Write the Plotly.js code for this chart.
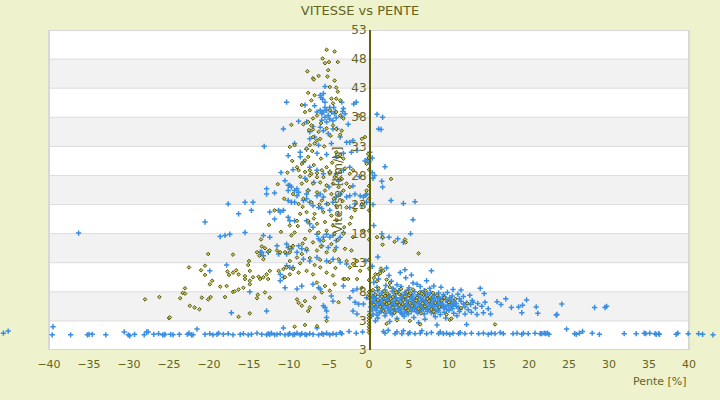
<!DOCTYPE html>
<html>
<head>
<meta charset="utf-8">
<script src="https://cdn.plot.ly/plotly-3.0.1.min.js"></script>
<style>
  html, body { margin: 0; padding: 0; background: #eef2cd; }
  #chart { width: 720px; height: 400px; }
</style>
</head>
<body>
<div id="chart"></div>
<script>
// points are [pente %, vitesse km/h]

// blue series, bottom row (speed ~1)
const blueBottom = [
  [-45.7,0.9],[-45.1,1.25],[-39.5,2.0],[-39.6,0.6],[-37.3,0.6],[-35.2,0.6],[-35.0,0.7],[-34.6,0.7],
  [-32.9,0.6],[-30.6,1.1],[-30.1,0.6],[-29.9,0.45],[-29.3,0.7],[-28.1,0.6],[-27.8,1.1],[-27.6,1.1],
  [-26.9,0.7],[-26.3,0.8],[-25.8,0.6],[-25.6,0.6],[-25.5,0.7],[-24.8,0.7],[-24.5,0.6],[-23.7,0.7],
  [-22.7,0.7],[-22.5,0.9],[-22.2,0.6],[-22.0,0.6],[-21.5,1.6],[-20.5,0.7],[-19.9,0.8],[-19.5,0.6],
  [-19.0,0.7],[-18.8,0.9],[-18.2,0.7],[-17.6,0.8],[-17.0,0.6],[-16.1,0.7],[-15.7,0.8],[-15.1,0.6],
  [-14.7,0.7],[-14.0,0.9],[-13.4,0.7],[-12.8,0.6],[-12.6,0.8],[-12.4,0.7],[-12.2,0.9],[-11.8,0.6],
  [-11.5,0.7],[-11.1,0.8],[-10.7,1.8],[-10.5,0.6],[-10.1,0.7],[-9.9,0.8],[-9.5,0.6],[-9.3,0.7],
  [-9.0,0.9],[-8.6,0.6],[-8.4,0.8],[-8.0,0.7],[-7.8,0.6],[-7.4,0.8],[-7.0,0.7],[-6.5,1.8],
  [-6.3,0.6],[-5.9,0.8],[-5.7,0.7],[-5.3,0.9],[-4.9,0.6],[-4.5,0.8],[-4.1,0.7],[-3.6,1.0],
  [-3.4,0.8],[-2.5,1.2],[-1.6,0.9],[-0.8,1.1],
  [1.8,1.2],[2.0,0.9],[2.4,1.4],[3.25,0.8],[3.5,1.1],[4.1,0.8],[4.3,1.3],[4.9,0.8],[5.1,1.0],
  [5.75,0.8],[6.4,0.9],[6.6,1.3],[7.2,0.8],[7.8,1.0],[8.5,2.3],[8.7,0.8],[8.9,1.1],[9.3,0.8],
  [9.7,0.9],[10.1,0.7],[10.5,0.9],[11.2,0.8],[11.4,1.0],[12.0,0.8],[12.2,2.4],[12.8,0.9],
  [13.7,0.8],[14.3,0.9],[14.9,0.7],[15.3,0.9],[15.75,0.8],[16.4,1.0],[16.8,0.8],[18.0,0.8],
  [18.5,0.9],[19.1,0.7],[19.3,0.9],[19.9,0.8],[20.75,0.9],[21.4,0.8],[21.6,0.8],[21.9,0.9],
  [22.1,0.8],[22.3,0.9],[22.5,0.7],[24.7,1.6],[25.7,0.8],[25.9,0.7],[26.3,0.9],[26.7,1.2],
  [27.9,0.9],[28.8,0.7],[31.9,0.8],[33.4,0.8],[34.4,0.9],[34.6,0.8],[35.1,0.9],[35.75,0.8],
  [35.9,0.7],[36.2,0.8],[36.3,0.7],[38.4,0.7],[38.6,0.9],[39.9,0.8],[41.2,0.8],[41.7,0.7],[43.0,0.6]
];

// blue series, dense cluster on the uphill side
const blueUphill = [
  [0.6,9.6],[1.2,10.2],[2.1,9.1],[2.8,9.8],[3.5,9.2],[4.6,10.4],[5.5,9.5],[6.4,8.9],[7.2,9.9],
  [8.1,9.0],[1.0,8.8],[3.0,8.6],[4.0,8.9],[5.0,8.7],[6.0,9.3],[7.6,8.6],[9.0,8.8],[10.5,8.4],
  [11.5,8.3],[2.5,10.8],[3.9,11.3],[4.5,11.8],[1.5,11.6],[0.4,12.4],[2.2,12.1],[7.8,11.6],[5.3,10.9],
  [0.2,8.0],[0.7,7.6],[1.1,8.2],[1.6,7.8],[2.0,8.3],[2.4,7.5],[2.9,8.1],[3.3,7.7],[3.7,8.2],
  [4.1,7.4],[4.5,7.9],[4.9,8.3],[5.3,7.6],[5.7,8.0],[6.1,7.5],[6.5,7.9],[6.9,8.2],[7.3,7.6],
  [7.7,7.9],[8.2,7.4],[8.7,7.8],[9.3,7.5],[9.8,7.9],[10.4,7.3],[11.1,7.6],[11.8,7.2],[12.6,7.4],
  [13.9,8.6],[14.4,7.7],
  [0.1,6.8],[0.5,6.4],[0.9,6.9],[1.3,6.2],[1.7,6.7],[2.1,6.3],[2.5,6.9],[2.9,6.4],[3.3,6.8],
  [3.7,6.2],[4.1,6.6],[4.5,7.0],[4.9,6.3],[5.3,6.7],[5.7,6.1],[6.1,6.5],[6.5,6.9],[6.9,6.2],
  [7.3,6.6],[7.7,6.3],[8.1,6.8],[8.5,6.1],[8.9,6.5],[9.3,6.9],[9.8,6.2],[10.3,6.6],[10.9,6.0],
  [11.5,6.4],[12.2,6.1],[12.9,6.5],[13.6,6.0],[14.5,6.2],[16.0,6.3],[17.1,6.8],[19.7,6.6],
  [0.3,6.1],[0.8,6.6],[1.5,6.0],[1.9,7.1],[2.7,6.0],[3.1,7.2],[3.5,6.5],[4.3,6.0],[4.7,6.5],
  [5.1,7.1],[5.5,6.4],[5.9,6.9],[6.3,6.0],[6.7,6.7],[7.1,7.1],[7.5,6.0],[7.9,7.0],[8.3,6.4],
  [8.7,7.1],[9.1,6.0],[9.6,6.7],[10.1,7.0],[10.6,6.3],[11.3,6.8],
  [0.2,5.4],[0.6,5.9],[1.0,5.2],[1.4,5.7],[1.8,5.1],[2.2,5.6],[2.6,5.0],[3.0,5.5],[3.4,5.9],
  [3.8,5.2],[4.2,5.7],[4.6,5.1],[5.0,5.6],[5.4,5.0],[5.8,5.5],[6.2,5.9],[6.6,5.2],[7.0,5.7],
  [7.4,5.1],[7.8,5.6],[8.2,5.0],[8.6,5.5],[9.0,5.9],[9.4,5.2],[9.9,5.7],[10.4,5.1],[10.9,5.5],
  [11.4,5.0],[12.0,5.4],[12.7,5.8],[13.3,5.2],[14.1,5.5],[14.9,5.1],[16.5,5.8],[17.8,5.3],
  [18.7,5.4],[19.2,5.7],[20.9,5.4],
  [0.4,5.0],[0.9,5.6],[1.2,6.0],[1.6,5.3],[2.0,5.9],[2.4,5.3],[2.8,5.8],[3.2,5.1],[3.6,5.6],
  [4.0,5.0],[4.4,5.4],[4.8,5.9],[5.2,5.3],[5.6,5.8],[6.0,5.1],[6.4,5.6],[6.8,5.0],[7.2,5.4],
  [7.6,5.9],[8.0,5.3],[8.4,5.8],[8.8,5.2],[9.2,5.6],[9.7,5.0],[10.2,5.4],[10.7,5.9],[11.2,5.3],
  [0.1,4.6],[0.5,4.2],[0.9,4.8],[1.3,4.4],[1.7,4.9],[2.1,4.3],[2.5,4.7],[2.9,4.1],[3.3,4.6],
  [3.7,4.9],[4.1,4.3],[4.5,4.7],[4.9,4.2],[5.3,4.6],[5.7,4.9],[6.1,4.4],[6.5,4.8],[6.9,4.2],
  [7.3,4.6],[7.7,4.9],[8.1,4.3],[8.5,4.7],[8.9,4.1],[9.4,4.5],[10.0,4.8],[10.6,4.3],[11.3,4.6],
  [12.0,4.2],[12.8,4.5],[13.5,4.1],[14.3,4.4],[15.2,4.2],[19.1,4.4],[21.1,4.3],[23.5,4.1],[23.4,4.0],
  [0.3,3.8],[1.1,3.5],[2.0,3.9],[3.5,3.4],[4.4,3.8],[5.6,3.6],[7.0,3.3],[8.3,3.7],[9.6,3.5],
  [11.0,3.9],[0.8,3.0],[2.6,2.9],[6.2,2.7],
  [0.4,7.2],[1.4,6.4],[2.3,7.0],[3.2,6.0],[3.9,6.9],[4.7,5.6],[5.5,6.9],[6.4,5.4],[7.1,6.4],
  [8.0,5.8],[8.8,6.8],[9.5,5.5],[10.3,6.0],[1.0,4.0],[2.7,4.4],[4.2,4.1],[6.0,4.6],[7.8,4.4],
  [0.6,7.0],[1.0,6.3],[1.3,7.4],[1.8,5.8],[2.2,6.6],[2.6,7.3],[3.0,6.1],[3.4,7.0],[3.8,5.9],
  [4.2,6.9],[4.6,7.6],[5.0,6.0],[5.4,7.3],[5.8,6.7],[6.2,7.2],[6.6,6.4],[7.0,7.6],[7.4,6.9],
  [7.8,6.6],[8.2,5.9],[8.6,7.0],[9.0,6.3],[9.4,7.2],[9.9,6.4],[0.7,5.3],[1.5,4.6],[2.3,5.2],
  [3.1,4.8],[3.9,4.5],[4.7,4.4],[5.5,5.3],[6.3,4.7],[7.1,5.0],[7.9,5.4],[8.7,4.8],[9.3,5.4],
  [10.5,5.6],[11.8,5.9],[12.4,4.9],[13.0,6.2],
  [24.1,5.9],[28.2,5.3],[29.5,5.3],[29.7,5.5]
];

// blue series, scattered points right of the axis
const blueUpScatter = [
  [1.0,38.5],[1.7,38.0],[1.2,36.0],[1.5,35.9],[0.1,32.0],[0.4,31.0],[-0.5,30.5],[-0.2,30.8],
  [2.0,29.5],[0.4,28.5],[0.7,28.0],[1.6,27.0],[1.7,26.0],[0.5,27.5],[2.75,23.7],[4.3,23.2],
  [5.75,23.5],[0.5,23.0],[-0.4,24.6],[5.5,20.4],[0.6,19.4],[5.2,18.0],[1.6,18.0],[1.7,17.3],
  [2.5,17.4],[3.6,17.1],[4.3,16.5],[1.1,14.0],[-0.4,13.3]
];

// blue series, downhill cloud
const blueDownhill = [
  [-36.3,18.1],[-20.5,20.0],[-19.9,11.6],[-17.8,12.6],[-18.6,17.5],[-18.0,17.7],[-17.4,17.9],
  [-15.5,18.2],[-14.7,22.0],[-16.3,21.4],[-17.6,23.1],[-15.5,23.4],[-14.5,23.4],[-13.2,17.7],
  [-12.4,17.4],[-12.6,14.8],[-13.4,14.8],[-13.6,14.8],[-13.2,14.2],[-11.5,15.9],[-11.3,14.5],
  [-10.3,16.2],[-10.1,15.6],[-11.1,11.0],[-10.7,10.5],[-12.8,4.7],[-17.2,4.4],[-14.9,8.0],
  [-12.8,25.7],[-12.8,24.8],[-11.8,25.0],[-11.3,22.0],[-11.1,21.7],[-10.7,22.0],[-12.4,21.7],
  [-11.8,20.5],[-10.1,20.8],[-9.9,20.2],[-9.3,20.2],[-10.5,27.1],[-10.1,26.3],[-9.9,26.3],
  [-9.7,26.0],[-10.1,25.4],[-9.3,25.4],[-9.0,25.7],[-8.8,25.1],[-9.0,24.5],[-10.1,23.7],
  [-9.7,23.4],[-9.3,23.4],[-8.2,23.7],[-7.8,24.0],[-7.4,23.4],[-7.8,24.8],[-7.6,25.4],
  [-6.5,24.5],[-6.1,24.8],[-5.7,24.3],[-7.0,22.8],[-6.3,22.5],[-5.9,22.3],[-5.3,23.1],
  [-4.9,22.0],[-4.5,23.4],[-4.1,24.3],[-3.6,24.8],[-2.8,24.3],[-2.4,24.5],[-1.75,24.8],
  [-1.1,24.5],[-0.7,24.3],[-0.3,24.8],[-2.4,22.5],[-1.75,23.1],[-0.9,22.8],[-0.3,23.4],
  [-7.8,20.2],[-7.4,19.7],[-7.0,19.1],[-6.5,17.9],[-6.3,17.1],[-6.1,16.8],[-5.7,17.4],
  [-5.3,17.9],[-4.9,17.4],[-4.5,17.7],[-4.1,16.8],[-3.6,17.4],[-3.2,18.2],[-5.9,15.9],
  [-5.1,15.6],[-4.1,15.6],[-8.8,15.9],[-8.4,15.4],[-7.8,15.1],[-10.3,14.5],[-9.7,15.4],
  [-9.0,14.8],[-8.2,13.6],[-7.4,13.3],[-6.5,13.9],[-5.3,13.3],[-4.5,13.6],[-3.6,13.1],
  [-2.8,12.8],[-10.3,12.5],[-9.9,12.2],[-9.5,12.2],[-11.1,9.9],[-10.5,8.7],[-9.0,8.5],
  [-8.4,9.0],[-7.0,9.3],[-6.3,8.7],[-6.1,8.5],[-4.7,7.3],[-4.5,6.4],[-5.7,5.6],[-5.5,5.3],
  [-3.2,9.0],[-2.4,7.0],[-2.0,8.2],[-1.5,8.5],[-1.75,6.2],[-1.3,5.9],[-0.7,5.9],[-0.3,7.0],
  [-2.0,4.7],[-1.5,4.2],[-5.3,3.6],[-5.3,4.7],
  [-10.3,40.6],[-13.1,33.0],[-10.1,31.4],[-8.8,37.3],[-9.3,33.5],[-8.6,32.0],[-7.8,37.2],
  [-6.5,38.9],[-6.1,41.8],[-5.7,42.1],[-5.5,40.6],[-5.5,43.3],[-6.0,41.4],[-5.8,41.1],
  [-6.1,39.2],[-5.9,38.6],[-5.7,38.9],[-5.5,38.0],[-5.3,39.2],[-5.1,38.3],[-4.9,37.7],
  [-4.7,38.9],[-4.5,37.4],[-4.3,38.6],[-4.1,37.9],[-5.3,37.2],[-5.9,37.5],[-5.5,39.7],
  [-4.9,39.7],[-4.4,39.7],[-4.2,39.0],[-3.3,39.0],[-3.5,38.2],[-1.9,40.3],[-3.2,39.5],
  [-3.0,38.6],[-3.4,40.6],[-1.6,40.6],[-3.6,34.6],[-2.8,33.7],[-2.4,33.7],[-2.0,34.0],
  [-1.5,32.3],[-4.7,33.5],[-6.3,33.2],[-7.4,35.5],[-7.4,34.3],[-6.8,34.6],[-6.1,36.3],
  [-5.7,35.7],[-5.1,35.2],[-4.5,36.0],[-7.8,32.5],[-6.5,31.8],[-5.3,31.6],[-4.1,31.2],
  [-3.2,31.8],[-2.2,32.0],[-8.6,31.2],[-8.2,30.3],[-7.4,29.4],[-6.5,28.9],[-5.7,28.3],
  [-4.9,28.6],[-4.1,28.3],[-3.2,28.9],[-2.4,29.4],[0.0,30.3],[-9.5,29.0],[-11.0,28.5],
  [-8.0,27.5],[-6.9,26.8],[-5.0,26.0],[-3.8,27.0],[-2.0,26.2],[-1.2,27.8],[-10.7,36.0],
  [-8.0,40.1],[-7.0,36.4],[-6.8,40.0],[-4.0,36.0],[-2.6,36.8]
];

// olive series, downhill cloud
const oliveDownhill = [
  [-5.3,49.6],[-4.3,49.3],[-5.8,48.1],[-5.5,47.3],[-5.0,47.5],[-3.9,47.5],[-5.1,46.1],[-7.7,45.9],
  [-7.0,44.7],[-6.9,44.5],[-6.3,45.1],[-5.2,45.0],[-4.3,44.3],[-4.9,43.2],[-4.1,43.1],[-3.9,42.4],
  [-7.6,42.2],[-6.8,41.8],[-7.2,40.9],[-4.7,41.2],[-4.1,41.2],[-4.5,40.4],[-3.6,40.9],[-8.4,40.1],
  [-8.0,38.9],[-7.4,39.2],[-6.5,38.3],[-7.0,37.8],[-4.9,39.2],[-4.1,38.9],[-3.6,38.3],[-3.2,37.8],
  [-9.7,36.7],[-8.2,36.8],[-7.6,37.2],[-7.2,36.6],[-7.5,35.8],[-7.0,35.9],[-6.3,35.5],[-5.3,36.1],
  [-4.5,36.6],[-4.1,36.0],[-3.4,35.7],[-3.6,35.0],[-7.0,34.6],[-6.5,34.0],[-6.1,34.3],[-6.8,33.5],
  [-9.9,32.9],[-9.3,33.2],[-7.8,32.6],[-7.4,33.2],[-4.1,32.0],[-3.9,31.2],[-3.6,31.5],[-3.2,30.9],
  [-9.0,29.4],[-8.8,28.9],[-8.4,30.0],[-8.0,30.6],[-7.6,31.2],[-7.4,28.9],[-7.2,28.3],[-6.5,27.7],
  [-5.9,28.9],[-5.3,29.4],[-4.9,28.3],[-4.3,27.7],[-3.6,28.6],[-3.0,29.2],[-2.4,28.3],[-2.0,28.9],
  [-1.3,38.3],[-0.9,34.3],[-0.5,34.6],[-0.1,31.7],[-0.3,30.0],
  [-8.0,28.6],[-7.4,28.0],[-6.5,28.4],[-5.7,27.7],[-4.9,28.6],[-4.1,28.0],[-7.8,27.1],[-7.0,26.6],
  [-6.1,26.8],[-5.3,26.3],[-4.5,26.6],[-3.8,26.0],[-7.6,25.4],[-6.5,25.1],[-5.5,25.4],[-4.7,24.8],
  [-8.2,24.0],[-7.2,23.4],[-5.9,23.7],[-5.1,23.1],[-4.1,22.8],[-7.8,21.7],[-6.8,21.4],[-5.7,21.7],
  [-4.7,21.1],[-3.8,21.4],[-7.6,20.2],[-6.5,19.7],[-5.5,20.0],[-4.5,19.4],[-7.4,18.5],[-6.3,18.2],
  [-5.3,18.5],[-4.3,18.0],[-8.0,17.1],[-7.0,16.5],[-5.7,16.8],[-4.7,16.2],[-7.8,15.4],[-6.5,15.1],
  [-5.3,14.8],[-4.3,15.1],[-7.4,13.8],[-6.1,13.5],[-4.9,13.1],[-3.8,13.6],
  [-8.6,27.8],[-6.9,29.8],[-6.0,30.9],[-4.6,30.2],[-8.3,22.6],[-6.2,23.0],[-4.4,24.0],[-3.3,23.6],
  [-8.9,19.3],[-6.9,20.6],[-4.0,20.3],[-3.1,19.1],[-8.3,16.3],[-6.0,15.8],[-3.9,16.9],[-8.6,12.9],
  [-6.8,12.6],[-4.2,12.1],[-7.1,32.2],[-5.6,33.0],[-4.8,34.8],[-6.0,37.0],
  [-9.9,19.4],[-9.3,18.2],[-9.7,17.7],[-9.0,20.2],[-8.6,21.4],[-8.8,23.1],[-9.5,24.8],[-8.4,26.6],
  [-3.2,25.4],[-2.8,26.6],[-2.4,26.0],[-3.4,27.4],[-2.2,20.8],[-2.4,19.7],[-2.0,17.4],[-2.2,15.1],
  [-1.5,13.3],[-2.0,12.8],[-2.4,12.2],[-1.1,11.6],[-1.5,10.2],[-0.9,8.7],[-3.2,10.2],[-3.0,10.2],
  [-2.6,10.2],[-2.8,22.5],[-1.75,22.0],[-3.2,18.0],[-3.0,15.4],[-0.7,18.5],[-0.9,23.1],[-0.3,25.4],
  [-2.8,13.3],
  [-7.8,11.6],[-7.0,11.0],[-6.1,12.2],[-5.3,11.3],[-4.5,10.8],[-6.5,9.6],[-5.5,9.0],[-4.3,9.3],
  [-5.9,7.9],[-4.9,8.2],[-7.6,4.7],[-7.4,5.3],[-9.3,2.0],[-8.0,2.3],[-6.8,7.0],[-3.8,6.2],
  [-5.3,3.0],[-6.5,2.1],
  [-28.0,6.7],[-26.2,7.1],[-25.0,3.5],[-23.3,7.8],[-24.9,3.6],[-23.6,6.9],[-23.0,8.6],[-23.0,7.7],
  [-22.5,12.2],[-22.4,5.6],[-21.8,5.3],[-21.2,5.0],[-21.0,11.7],[-20.5,12.5],[-20.5,10.9],
  [-20.9,7.0],[-20.1,6.7],[-19.8,7.1],[-20.1,14.5],[-19.9,9.3],[-19.6,9.9],[-18.0,7.1],[-18.6,8.9],
  [-17.8,9.0],[-17.7,11.5],[-17.5,10.9],[-17.0,11.3],[-16.6,11.7],[-16.3,11.0],[-17.0,14.4],
  [-17.0,8.0],[-16.8,8.1],[-16.3,8.4],[-16.3,3.7],[-15.7,8.7],[-15.5,10.7],[-15.0,13.3],[-15.1,12.6],
  [-14.9,11.6],[-15.5,10.2],[-14.9,9.3],[-14.9,9.9],[-14.5,10.5],[-13.8,10.6],[-13.6,10.2],
  [-13.2,10.5],[-12.8,11.0],[-12.4,11.6],[-12.6,10.2],[-14.0,14.8],[-13.7,14.2],[-13.2,13.6],
  [-12.6,14.9],[-12.4,15.1],[-13.0,15.5],[-13.4,15.8],[-13.9,7.5],[-14.0,6.9],[-13.0,7.9],
  [-12.4,7.0],[-14.9,4.3],[-11.5,15.1],[-11.1,14.8],[-10.5,14.8],[-9.9,14.8],[-9.9,15.6],[-9.5,15.9],
  [-11.3,11.6],[-10.7,11.9],[-10.5,10.5],[-10.3,12.2],[-9.9,11.0],[-9.5,11.9],[-8.8,11.3],
  [-9.9,13.3],[-9.0,13.9],[-8.4,14.5],[-9.0,6.7],[-8.8,6.1],[-8.4,5.6],[-8.0,6.4],
  [-12.5,19.5],[-11.8,22.0],[-11.0,18.3],[-13.5,17.0],[-10.6,24.0],[-11.4,26.5],[-10.2,28.5],[-9.6,30.5]
];

// olive series, uphill side and on the axis
const oliveUphill = [
  [2.75,27.4],[1.7,17.4],[1.0,17.4],[3.2,16.6],[4.5,17.0],[4.6,16.5],[6.2,14.6],[1.7,16.1],
  [1.5,12.0],[1.8,11.6],[0.8,11.0],[1.2,11.0],[1.4,11.2],[0.6,10.4],[2.2,10.1],[2.6,9.5],[1.0,9.8],
  [0.5,8.3],[1.2,8.6],[1.9,8.1],[2.6,8.8],[3.3,8.2],[4.0,8.5],[4.8,8.0],[5.5,8.4],[6.3,7.9],
  [7.1,8.2],[0.8,7.5],[1.6,7.2],[2.3,7.7],[3.0,7.1],[3.8,7.6],[4.5,7.2],[5.2,7.7],[6.0,7.0],
  [6.8,7.5],[7.6,7.1],[8.5,7.4],[9.4,7.0],[1.1,6.6],[1.9,6.3],[2.7,6.8],[3.5,6.2],[4.3,6.6],
  [5.1,6.1],[5.9,6.5],[6.7,6.0],[7.5,6.4],[8.3,6.1],[9.1,6.5],[10.0,6.2],[0.6,5.8],[1.4,5.4],
  [2.2,5.9],[3.0,5.3],[3.8,5.7],[4.6,5.2],[5.4,5.6],[6.2,5.1],[7.0,5.5],[7.8,5.0],[8.8,5.4],
  [1.8,4.7],[3.2,4.4],[4.9,4.8],[6.5,4.3],[8.1,4.6],[9.7,4.1],[11.5,5.2],[12.3,6.0],[10.8,6.8],
  [2.0,7.3],[3.4,7.9],[5.0,7.4],[6.6,7.7],[4.2,5.9],[2.5,6.1],[7.3,6.8],[8.0,7.8],
  [2.2,2.5],[3.5,3.1],[5.1,3.0],[6.4,2.4],[10.1,3.2],[10.3,3.4],[15.75,2.4],
  [0,31],[0,29],[0,26.2],[0,24],[0,22],[0,18.5],[0,17],[0,13.5],[0,12],[0,10],[0,8],[0,7.5],
  [0,7],[0,4],[0,3.5],[0,3],[0,2.5],[0,2],[0,1.5],[0,1]
];

const yTicks = [-2, 3, 8, 13, 18, 23, 28, 33, 38, 43, 48, 53];
const yTickText = ['3', '3', '8', '13', '18', '23', '28', '33', '38', '43', '48', '53'];
const xTicks = [-40, -35, -30, -25, -20, -15, -10, -5, 0, 5, 10, 15, 20, 25, 30, 35, 40];
const bandStarts = [3, 13, 23, 33, 43];

const olive = '#64641e';
const blue = [].concat(blueBottom, blueUphill, blueUpScatter, blueDownhill);
const green = [].concat(oliveDownhill, oliveUphill);

const traces = [
  {
    x: blue.map(p => p[0]),
    y: blue.map(p => p[1]),
    type: 'scatter',
    mode: 'markers',
    cliponaxis: false,
    hoverinfo: 'skip',
    marker: {symbol: 'cross-thin', size: 3.8, line: {width: 1.5, color: '#3a8ee2'}}
  },
  {
    x: green.map(p => p[0]),
    y: green.map(p => p[1]),
    type: 'scatter',
    mode: 'markers',
    cliponaxis: false,
    hoverinfo: 'skip',
    marker: {symbol: 'diamond', size: 2.8, color: '#c8c860', line: {width: 1, color: '#55550a'}}
  }
];

// the x range runs past +-40 so that the few outliers are still drawn;
// the white plot box itself is drawn as shapes between -40 and 40
const shapes = [{
  type: 'rect', layer: 'below', xref: 'x', yref: 'y',
  x0: -40, x1: 40, y0: -2, y1: 53,
  fillcolor: '#ffffff', line: {width: 0}
}];
bandStarts.forEach(b => shapes.push({
  type: 'rect', layer: 'below', xref: 'x', yref: 'y',
  x0: -40, x1: 40, y0: b, y1: b + 5,
  fillcolor: '#f2f2f2', line: {width: 0}
}));
yTicks.forEach(t => shapes.push({
  type: 'line', layer: 'below', xref: 'x', yref: 'y',
  x0: -40, x1: 40, y0: t, y1: t,
  line: {color: '#dcdcdc', width: 1}
}));
shapes.push({
  type: 'rect', layer: 'below', xref: 'x', yref: 'y',
  x0: -40, x1: 40, y0: -2, y1: 53,
  line: {color: '#d8d8d8', width: 2}
});

const layout = {
  width: 720,
  height: 400,
  margin: {l: 0, r: 0, t: 30, b: 50},
  paper_bgcolor: '#eef2cd',
  plot_bgcolor: 'rgba(0,0,0,0)',
  font: {family: 'DejaVu Sans', size: 12, color: olive},
  showlegend: false,
  title: {
    text: 'VITESSE vs PENTE',
    font: {family: 'DejaVu Sans', size: 13, color: olive},
    x: 0.5, xref: 'container', y: 0.975, yref: 'container', yanchor: 'middle'
  },
  xaxis: {
    range: [-46.125, 43.875],
    tickvals: xTicks,
    showgrid: false,
    zeroline: false,
    showline: false,
    ticks: '',
    ticklabelstandoff: 6,
    tickfont: {size: 11, color: olive}
  },
  yaxis: {
    range: [-2, 53],
    anchor: 'free',
    position: 46.125 / 90,
    tickvals: yTicks,
    ticktext: yTickText,
    showgrid: false,
    zeroline: false,
    showline: true,
    linecolor: '#5f5f08',
    linewidth: 1.5,
    ticks: '',
    tickfont: {size: 12, color: olive},
    title: {text: 'Vitesse [km/h]', font: {size: 12, color: olive}, standoff: 4}
  },
  shapes: shapes,
  annotations: [{
    text: 'Pente [%]', showarrow: false,
    xref: 'x', yref: 'paper', x: 40, y: -0.097,
    xanchor: 'right', yanchor: 'middle',
    font: {size: 11, color: olive}
  }]
};

Plotly.newPlot('chart', traces, layout, {displayModeBar: false, staticPlot: true});
</script>
</body>
</html>
